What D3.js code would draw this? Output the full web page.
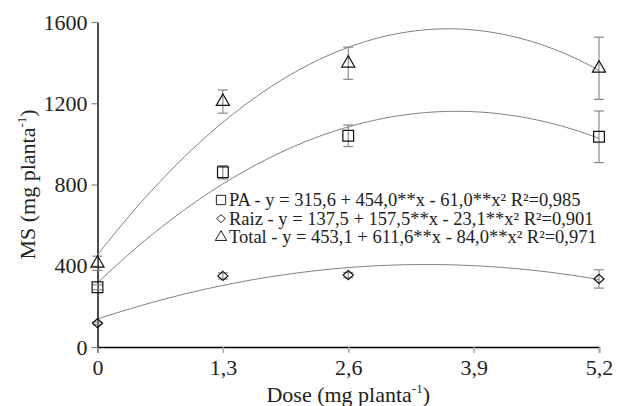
<!DOCTYPE html>
<html>
<head>
<meta charset="utf-8">
<script src="https://cdn.jsdelivr.net/npm/d3@7"></script>
<style>
  body { margin: 0; background: #fff; }
  svg { display: block; }
</style>
</head>
<body>
<div id="chart"></div>
<script>
// doses and measured means (mg planta-1), with error bar half-lengths
const doses = [0, 1.3, 2.6, 5.2];
const xTicks = [0, 1.3, 2.6, 3.9, 5.2];
const yTicks = [0, 400, 800, 1200, 1600];

const paMeans = [294, 860, 1040, 1035];
const paErrors = [12, 33, 53, 127];
const raizMeans = [117, 350, 354, 335];
const raizErrors = [6, 15, 13, 45];
const totalMeans = [412, 1208, 1397, 1372];
const totalErrors = [35, 57, 79, 153];

// fitted quadratic coefficients (b0, b1, b2) as printed in the legend
const paCoef = [315.6, 454.0, -61.0];
const raizCoef = [137.5, 157.5, -23.1];
const totalCoef = [453.1, 611.6, -84.0];

const legendLabels = [
  'PA - y = 315,6 + 454,0**x - 61,0**x² R²=0,985',
  'Raiz - y = 137,5 + 157,5**x - 23,1**x²  R²=0,901',
  'Total - y = 453,1 + 611,6**x - 84,0**x²  R²=0,971'
];

const width = 617;
const height = 406;
const margin = { top: 22, right: 18, bottom: 59, left: 97.5 };
const serif = '"Liberation Serif", "Times New Roman", serif';

const svg = d3.select('#chart')
  .append('svg')
  .attr('width', width)
  .attr('height', height)
  .style('font-family', serif);

const x = d3.scaleLinear()
  .domain([0, 5.2])
  .range([margin.left, width - margin.right]);
const y = d3.scaleLinear()
  .domain([0, 1600])
  .range([height - margin.bottom, margin.top]);

// wide diamond like the ◇ used in the original
const wideDiamond = {
  draw(ctx, size) {
    const w = Math.sqrt(size) * 0.55;
    const h = w * 0.9;
    ctx.moveTo(0, -h);
    ctx.lineTo(w, 0);
    ctx.lineTo(0, h);
    ctx.lineTo(-w, 0);
    ctx.closePath();
  }
};

const series = [
  { name: 'PA', means: paMeans, errors: paErrors, coef: paCoef, symbol: d3.symbolSquare, size: 115 },
  { name: 'Raiz', means: raizMeans, errors: raizErrors, coef: raizCoef, symbol: wideDiamond, size: 85 },
  { name: 'Total', means: totalMeans, errors: totalErrors, coef: totalCoef, symbol: d3.symbolTriangle, size: 75 }
];

// axes
const xAxis = svg.append('g')
  .attr('transform', `translate(0,${y(0)})`)
  .call(d3.axisBottom(x).tickValues(xTicks).tickSize(6).tickPadding(6)
    .tickFormat(d => d3.format('.1~f')(d).replace('.', ',')));
xAxis.attr('font-family', serif);
xAxis.select('.domain').attr('stroke', '#000').attr('stroke-width', 1.4);
xAxis.selectAll('.tick line').attr('stroke', '#aaa').attr('stroke-width', 1.4);
xAxis.selectAll('.tick text')
  .attr('font-family', serif).attr('font-size', 22).attr('fill', '#222');

const yAxis = svg.append('g')
  .attr('transform', `translate(${x(0)},0)`)
  .call(d3.axisLeft(y).tickValues(yTicks).tickSize(6).tickPadding(4).tickSizeOuter(0)
    .tickFormat(d3.format('d')));
yAxis.attr('font-family', serif);
yAxis.select('.domain').attr('stroke', '#000').attr('stroke-width', 1.4);
yAxis.selectAll('.tick line').attr('stroke', '#888').attr('stroke-width', 1.2);
yAxis.selectAll('.tick text')
  .attr('font-family', serif).attr('font-size', 22).attr('fill', '#222');

// axis titles
const xTitle = svg.append('text')
  .attr('x', (x(0) + x(5.2)) / 2)
  .attr('y', 402)
  .attr('text-anchor', 'middle')
  .attr('font-size', 22)
  .attr('fill', '#222');
xTitle.append('tspan').text('Dose (mg planta');
xTitle.append('tspan').attr('font-size', 13).attr('dy', -9).text('-1');
xTitle.append('tspan').attr('dy', 9).text(')');

const yTitle = svg.append('text')
  .attr('transform', `translate(35,${(y(0) + y(1600)) / 2}) rotate(-90)`)
  .attr('text-anchor', 'middle')
  .attr('font-size', 22)
  .attr('fill', '#222');
yTitle.append('tspan').text('MS (mg planta');
yTitle.append('tspan').attr('font-size', 13).attr('dy', -9).text('-1');
yTitle.append('tspan').attr('dy', 9).text(')');

// fitted curves
const curveX = d3.range(0, 5.2001, 0.05);
const line = d3.line()
  .x(d => x(d[0]))
  .y(d => y(d[1]));

series.forEach(s => {
  const pts = curveX.map(v => [v, s.coef[0] + s.coef[1] * v + s.coef[2] * v * v]);
  svg.append('path')
    .datum(pts)
    .attr('fill', 'none')
    .attr('stroke', '#808080')
    .attr('stroke-width', 1)
    .attr('d', line);
});

// error bars and markers
series.forEach(s => {
  const g = svg.append('g');
  const rows = doses.map((d, i) => ({ dose: d, mean: s.means[i], err: s.errors[i] }));
  rows.forEach(r => {
    g.append('line')
      .attr('x1', x(r.dose)).attr('x2', x(r.dose))
      .attr('y1', y(r.mean + r.err)).attr('y2', y(r.mean - r.err))
      .attr('stroke', '#777').attr('stroke-width', 1);
    [r.mean + r.err, r.mean - r.err].forEach(v => {
      g.append('line')
        .attr('x1', x(r.dose) - 5).attr('x2', x(r.dose) + 5)
        .attr('y1', y(v)).attr('y2', y(v))
        .attr('stroke', '#888').attr('stroke-width', 1.2);
    });
  });
  g.selectAll('path.marker')
    .data(rows)
    .join('path')
    .attr('class', 'marker')
    .attr('transform', d => `translate(${x(d.dose)},${y(d.mean)})`)
    .attr('d', d3.symbol().type(s.symbol).size(s.size))
    .attr('fill', 'none')
    .attr('stroke', '#111')
    .attr('stroke-width', 1.2);
});

// legend
const legend = svg.append('g');
series.forEach((s, i) => {
  const ly = 206 + i * 18.6;
  legend.append('path')
    .attr('transform', `translate(221,${ly - 6})`)
    .attr('d', d3.symbol().type(s.symbol).size(s.size * 0.75))
    .attr('fill', 'none')
    .attr('stroke', '#222')
    .attr('stroke-width', 1);
  legend.append('text')
    .attr('x', 229)
    .attr('y', ly)
    .attr('font-size', 18.5)
    .attr('fill', '#222')
    .text(legendLabels[i]);
});
</script>
</body>
</html>
